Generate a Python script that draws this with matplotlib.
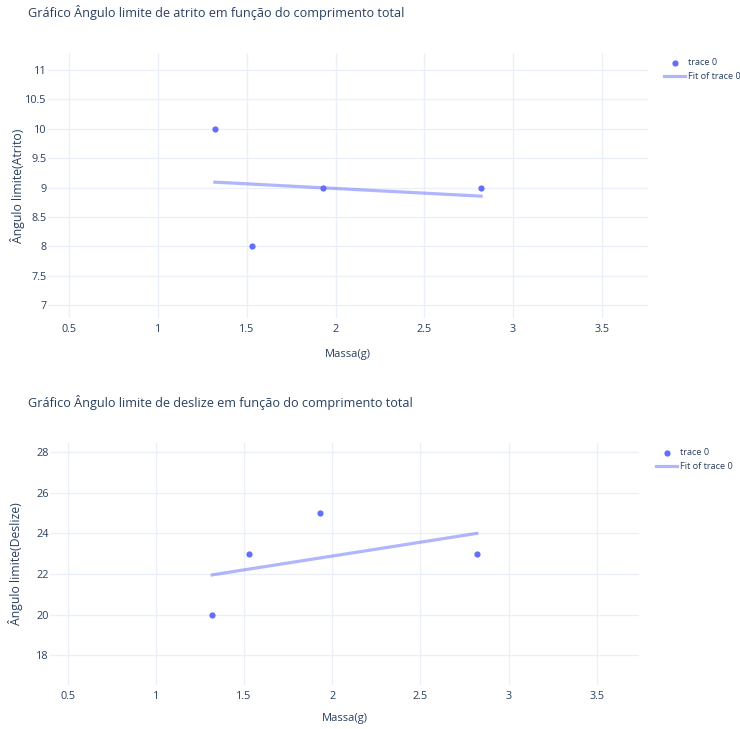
import matplotlib.pyplot as plt
import numpy as np

# dados
massa = [1.32, 1.53, 1.93, 2.82]
angulo_atrito = [10, 8, 9, 9]
angulo_deslize = [20, 23, 25, 23]

titulos = ['Gráfico Ângulo limite de atrito em função do comprimento total',
           'Gráfico Ângulo limite de deslize em função do comprimento total']
ylabels = ['Ângulo limite(Atrito)', 'Ângulo limite(Deslize)']
xticks = [0.5, 1, 1.5, 2, 2.5, 3, 3.5]
yticks_atrito = [7, 7.5, 8, 8.5, 9, 9.5, 10, 10.5, 11]
yticks_deslize = [18, 20, 22, 24, 26, 28]

plt.rcParams['font.family'] = ['Open Sans', 'DejaVu Sans']
cor = '#636efa'
texto = '#2a3f5f'
grade = '#ebf0f8'

W, H = 740, 729
fig = plt.figure(figsize=(W / 100, H / 100), dpi=100)


def px_ax(x0, y0, x1, y1):
    return fig.add_axes([x0 / W, 1 - y1 / H, (x1 - x0) / W, (y1 - y0) / H])


def painel(ax, y, yticks, xlim, ylim, titulo, ylabel, title_y, ylab_x, xlab_y, leg_xy):
    x = np.array(massa)
    a, b = np.polyfit(x, y, 1)
    xs = np.array([x.min(), x.max()])
    ax.scatter(x, y, s=20, color=cor, zorder=3, label='trace 0', linewidths=0)
    ax.plot(xs, a * xs + b, color=cor, alpha=0.5, lw=2.3, zorder=2, label='Fit of trace 0')
    ax.set_xlim(*xlim)
    ax.set_ylim(*ylim)
    ax.set_xticks(xticks)
    ax.set_xticklabels([f'{t:g}' for t in xticks])
    ax.set_yticks(yticks)
    ax.set_yticklabels([f'{t:g}' for t in yticks])
    ax.grid(True, color=grade, lw=1)
    ax.set_axisbelow(True)
    for s in ax.spines.values():
        s.set_visible(False)
    ax.tick_params(length=0, labelsize=7.8, colors=texto)
    ax.tick_params(axis='y', pad=1)
    ax.tick_params(axis='x', pad=4)
    ax.legend(loc='upper left', bbox_to_anchor=(leg_xy[0] / W, 1 - leg_xy[1] / H),
              bbox_transform=fig.transFigure, frameon=False, fontsize=6.6,
              labelcolor=texto, handlelength=2.3, handletextpad=0.3,
              labelspacing=0.55, borderaxespad=0, borderpad=0)
    fig.text(28 / W, 1 - title_y / H, titulo, fontsize=9.1, color=texto, va='center')
    pos = ax.get_position()
    fig.text(ylab_x / W, pos.y0 + pos.height / 2, ylabel, rotation=90, fontsize=8.8,
             color=texto, ha='center', va='center')
    fig.text(pos.x0 + pos.width / 2, 1 - xlab_y / H, 'Massa(g)', fontsize=8,
             color=texto, ha='center', va='center')


ax1 = px_ax(48, 53, 648, 318)
painel(ax1, angulo_atrito, yticks_atrito, (0.38, 3.76), (6.78, 11.29),
       titulos[0], ylabels[0], 13, 18, 354, (664, 58))

ax2 = px_ax(50, 443, 639, 685)
painel(ax2, angulo_deslize, yticks_deslize, (0.40, 3.74), (16.53, 28.46),
       titulos[1], ylabels[1], 403, 16, 719, (656, 448))

fig.savefig('out.png', dpi=100)
